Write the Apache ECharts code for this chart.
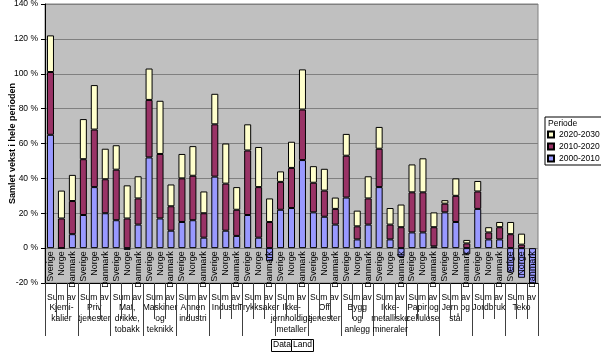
<!DOCTYPE html>
<html>
<head>
<meta charset="utf-8">
<script src="https://cdn.jsdelivr.net/npm/echarts@6/dist/echarts.min.js"></script>
<style>
  html, body { margin: 0; padding: 0; background: #fff; }
  #chart { width: 601px; height: 359px; }
</style>
</head>
<body>
<div id="chart"></div>
<script>
const countries = ['Sverige', 'Norge', 'Danmark']
const groups = [
  'Sum av\nKjemi-\nkalier', 'Sum av\nPriv\ntjenester', 'Sum av\nMat,\ndrikke,\ntobakk',
  'Sum av\nMaskiner\nog\nteknikk', 'Sum av\nAnnen\nindustri', 'Sum av\nIndustri',
  'Sum av\nTrykksaker', 'Sum av\nIkke-\njernholdige\nmetaller', 'Sum av\nOff\ntjenester',
  'Sum av\nBygg\nog\nanlegg', 'Sum av\nIkke-\nmetalliske\nmineraler', 'Sum av\nPapir og\ncellulose',
  'Sum av\nJern og\nstål', 'Sum av\nJordbruk', 'Sum av\nTeko'
]
const yTicks = [-20, 0, 20, 40, 60, 80, 100, 120, 140]

// three values per group: Sverige, Norge, Danmark
const p2000 = [
  65, 0, 8,   19, 35, 20,   16, -1, 13.5,   52, 17, 10,   15, 16, 6,
  41, 10, 7,  19, 6, -7.5,  22, 23, 50.5,   20.5, 18, 13.5, 29, 5, 13.5,
  35, 5, -5,  9, 9, 1,      20.5, 15, -3.5, 22.5, 5, 5,   -14, -17, -21
]
const p2010 = [
  36, 17, 19,  32, 33, 19.5,  29, 17, 15,   33, 37, 14,   25, 25.5, 14,
  30, 27, 15,  37, 29, 15,    16, 23, 29,   17, 15, 9,    24, 7.5, 15,
  22, 8.5, 12, 23, 23, 11,    5, 15, 2.7,   10, 4, 7,     8, 2, 0
]
const p2020 = [
  21, 16, 15,     23, 25.5, 17.5,  14, 19, 12.7,  18, 30.5, 12.5,  14, 17, 12.5,
  17.5, 23, 13,   15, 23, 13.5,    6, 15, 23,     9.5, 12.5, 6.5,  12.5, 9, 12.7,
  12.5, 9.5, 13,  16, 19.5, 8.5,   2, 10, 2,      6, 3, 3,         7, 6.3, 0
]

const font = 'Liberation Sans, Arial, sans-serif'
const bars = groups.flatMap(() => countries)

const W = 601, H = 359
const gridBox = { left: 45, right: 63, top: 4, bottom: 76, outerBoundsMode: 'none', containLabel: false }
// the country labels sit in the band between 0 % and -20 %
const zeroY = gridBox.top + (H - gridBox.top - gridBox.bottom) * (140 / 160)

const chart = echarts.init(document.getElementById('chart'))

function barSeries(name, data, color) {
  return {
    name,
    type: 'bar',
    stack: 'total',
    barWidth: 7,
    xAxisIndex: 0,
    yAxisIndex: 0,
    data,
    itemStyle: { color, borderColor: '#000', borderWidth: 1 }
  }
}

chart.setOption({
  animation: false,
  textStyle: { fontFamily: font },
  grid: [
    { ...gridBox, show: true, backgroundColor: '#C0C0C0', borderColor: '#808080', borderWidth: 1 },
    { ...gridBox, show: false },
    { ...gridBox, top: zeroY, show: false }
  ],
  legend: {
    orient: 'vertical',
    left: 545,
    top: 117,
    padding: [13, 2, 2, 2],
    itemGap: 3,
    itemWidth: 6,
    itemHeight: 6,
    backgroundColor: '#fff',
    borderColor: '#000',
    borderWidth: 1,
    icon: 'rect',
    textStyle: { fontSize: 8.5, color: '#000', fontFamily: font },
    data: ['2020-2030', '2010-2020', '2000-2010']
  },
  graphic: [
    { type: 'text', left: 548, top: 119, z: 100, style: { text: 'Periode', font: '8.5px ' + font, fill: '#000' } },
    { type: 'rect', left: 271, top: 339, z: 100, shape: { width: 20, height: 12 }, style: { fill: '#fff', stroke: '#000', lineWidth: 1 } },
    { type: 'rect', left: 291, top: 339, z: 100, shape: { width: 22, height: 12 }, style: { fill: '#fff', stroke: '#000', lineWidth: 1 } },
    { type: 'text', left: 273, top: 340, z: 101, style: { text: 'Data', font: '8.5px ' + font, fill: '#000' } },
    { type: 'text', left: 293, top: 340, z: 101, style: { text: 'Land', font: '8.5px ' + font, fill: '#000' } }
  ],
  xAxis: [
    {
      type: 'category',
      gridIndex: 0,
      data: bars,
      axisLine: { show: false },
      axisTick: { show: false },
      axisLabel: { show: false }
    },
    {
      type: 'category',
      gridIndex: 1,
      position: 'bottom',
      data: groups,
      axisLine: { show: true, lineStyle: { color: '#404040' } },
      axisTick: { show: true, interval: 0, length: 53, lineStyle: { color: '#404040' } },
      axisLabel: { interval: 0, fontSize: 8.5, lineHeight: 10.7, color: '#000', margin: 9 }
    },
    {
      type: 'category',
      gridIndex: 2,
      position: 'top',
      data: bars,
      z: 5,
      axisLine: { show: true, lineStyle: { color: '#000', width: 1 } },
      axisTick: { show: true, inside: true, interval: 0, length: 36, lineStyle: { color: '#404040' } },
      axisLabel: { inside: true, interval: 0, rotate: 90, fontSize: 9, color: '#000', margin: 3 }
    }
  ],
  yAxis: [
    {
      type: 'value',
      gridIndex: 0,
      min: -20,
      max: 140,
      interval: 20,
      name: 'Samlet vekst i hele perioden',
      nameLocation: 'middle',
      nameGap: 28,
      nameMoveOverlap: false,
      nameTextStyle: { fontSize: 9, fontWeight: 'bold', color: '#000' },
      axisLine: { show: true, lineStyle: { color: '#000' } },
      axisTick: { show: true, length: 4, lineStyle: { color: '#000' } },
      axisLabel: {
        fontSize: 8.5, color: '#000', margin: 7,
        formatter: (v) => yTicks.includes(v) ? v + ' %' : ''
      },
      splitLine: { lineStyle: { color: '#808080' } }
    },
    { type: 'value', gridIndex: 1, min: 0, max: 1, show: false },
    { type: 'value', gridIndex: 2, min: 0, max: 1, show: false }
  ],
  series: [
    barSeries('2000-2010', p2000, '#9999FF'),
    barSeries('2010-2020', p2010, '#993366'),
    barSeries('2020-2030', p2020, '#FFFFCC')
  ]
})
</script>
</body>
</html>
